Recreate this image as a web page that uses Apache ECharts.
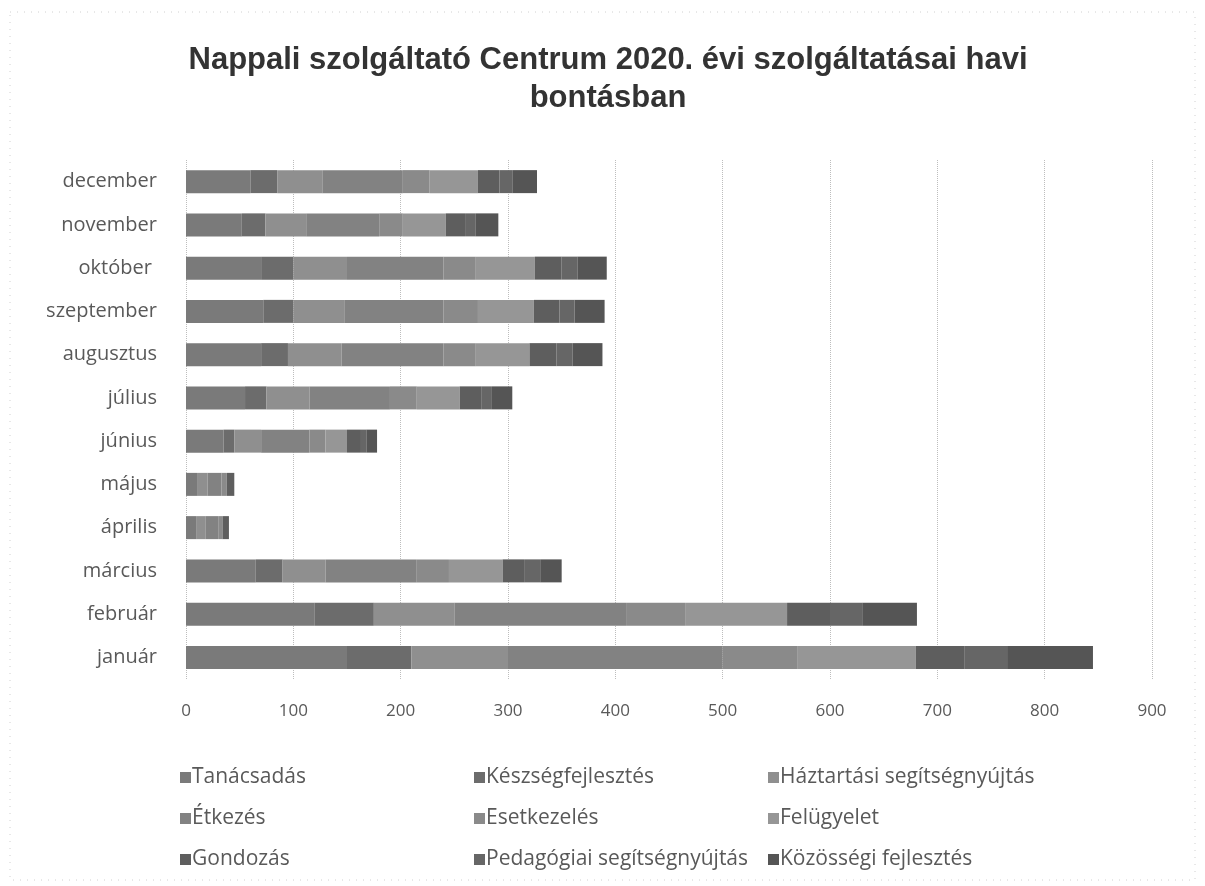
<!DOCTYPE html>
<html>
<head>
<meta charset="utf-8">
<title>Nappali szolgáltató Centrum 2020</title>
<script src="https://cdn.jsdelivr.net/npm/echarts@6/dist/echarts.min.js"></script>
<style>
  html, body { margin: 0; padding: 0; background: #ffffff; }
  #chart { width: 1205px; height: 886px; }
</style>
</head>
<body>
<div id="chart"></div>
<script>
// Months, bottom to top on the category axis
const months = ['január', 'február', 'március', 'április', 'május', 'június',
  'július', 'augusztus', 'szeptember', 'október ', 'november', 'december'];

// Service types, in stacking order
const services = ['Tanácsadás', 'Készségfejlesztés', 'Háztartási segítségnyújtás',
  'Étkezés', 'Esetkezelés', 'Felügyelet',
  'Gondozás', 'Pedagógiai segítségnyújtás', 'Közösségi fejlesztés'];

// Monthly counts per service (jan ... dec)
const tanacsadas        = [150, 120, 65, 10, 11, 35, 55, 70, 72, 70, 52, 60];
const keszsegfejlesztes = [ 60,  55, 25,  0,  0, 10, 20, 25, 28, 30, 22, 25];
const haztartasi        = [ 90,  75, 40,  8,  9, 25, 40, 50, 48, 50, 38, 42];
const etkezes           = [200, 160, 85, 12, 13, 45, 75, 95, 92, 90, 68, 75];
const esetkezeles       = [ 70,  55, 30,  4,  5, 15, 25, 30, 32, 30, 22, 25];
const felugyelet        = [110,  95, 50,  0,  0, 20, 40, 50, 52, 55, 40, 45];
const gondozas          = [ 45,  40, 20,  6,  7, 13, 20, 25, 24, 25, 18, 20];
const pedagogiai        = [ 40,  30, 15,  0,  0,  5, 10, 15, 14, 15, 10, 12];
const kozossegi         = [ 80,  51, 20,  0,  0, 10, 19, 28, 28, 27, 21, 23];

// Axis ticks
const xTicks = [0, 100, 200, 300, 400, 500, 600, 700, 800, 900];

const seriesValues = [tanacsadas, keszsegfejlesztes, haztartasi, etkezes,
  esetkezeles, felugyelet, gondozas, pedagogiai, kozossegi];

// Monochrome palette, one gray per service
const grays = ['#7a7a7a', '#6c6c6c', '#8f8f8f', '#828282', '#8a8a8a',
  '#969696', '#5e5e5e', '#666666', '#555555'];

const textFont = '"Open Sans", "DejaVu Sans", sans-serif';
const textColor = '#595959';

const series = services.map((name, i) => ({
  name: name,
  type: 'bar',
  stack: 'total',
  barWidth: 23,
  itemStyle: { color: grays[i] },
  data: seriesValues[i]
}));

// Legend columns (three items each)
function legendColumn(names, left) {
  return {
    orient: 'vertical',
    left: left,
    top: 762,
    itemWidth: 11,
    itemHeight: 11,
    itemGap: 20,
    icon: 'rect',
    data: names,
    textStyle: { fontFamily: textFont, fontSize: 21, lineHeight: 21, color: textColor, padding: [0, 0, 0, -4] }
  };
}

const chart = echarts.init(document.getElementById('chart'), null, { renderer: 'canvas' });
chart.setOption({
  backgroundColor: '#ffffff',
  animation: false,
  title: {
    text: 'Nappali szolgáltató Centrum 2020. évi szolgáltatásai havi\nbontásban',
    left: 603,
    top: 36,
    textAlign: 'center',
    textStyle: {
      fontFamily: '"Liberation Sans", Arial, sans-serif',
      fontWeight: 'bold',
      fontSize: 31,
      lineHeight: 38,
      color: '#333333'
    }
  },
  legend: [
    legendColumn([services[0], services[3], services[6]], 175),
    legendColumn([services[1], services[4], services[7]], 469),
    legendColumn([services[2], services[5], services[8]], 763)
  ],
  grid: { left: 186, right: 53, top: 160, bottom: 207, containLabel: false },
  xAxis: {
    type: 'value',
    min: xTicks[0],
    max: xTicks[xTicks.length - 1],
    interval: xTicks[1] - xTicks[0],
    axisLine: { show: false },
    axisTick: { show: false },
    axisLabel: { margin: 24, fontFamily: textFont, fontSize: 17, color: textColor },
    splitLine: { show: true, lineStyle: { type: 'dotted', color: '#bdbdbd', width: 1 } }
  },
  yAxis: {
    type: 'category',
    data: months,
    axisLine: { show: false },
    axisTick: { show: false },
    axisLabel: { margin: 29, fontFamily: textFont, fontSize: 20, color: textColor }
  },
  series: series,
  graphic: [{
    type: 'rect',
    shape: { x: 10, y: 12, width: 1185, height: 868 },
    style: { fill: 'none', stroke: '#d0d0d0', lineWidth: 1, lineDash: [1, 6] },
    silent: true
  }]
});
</script>
</body>
</html>
